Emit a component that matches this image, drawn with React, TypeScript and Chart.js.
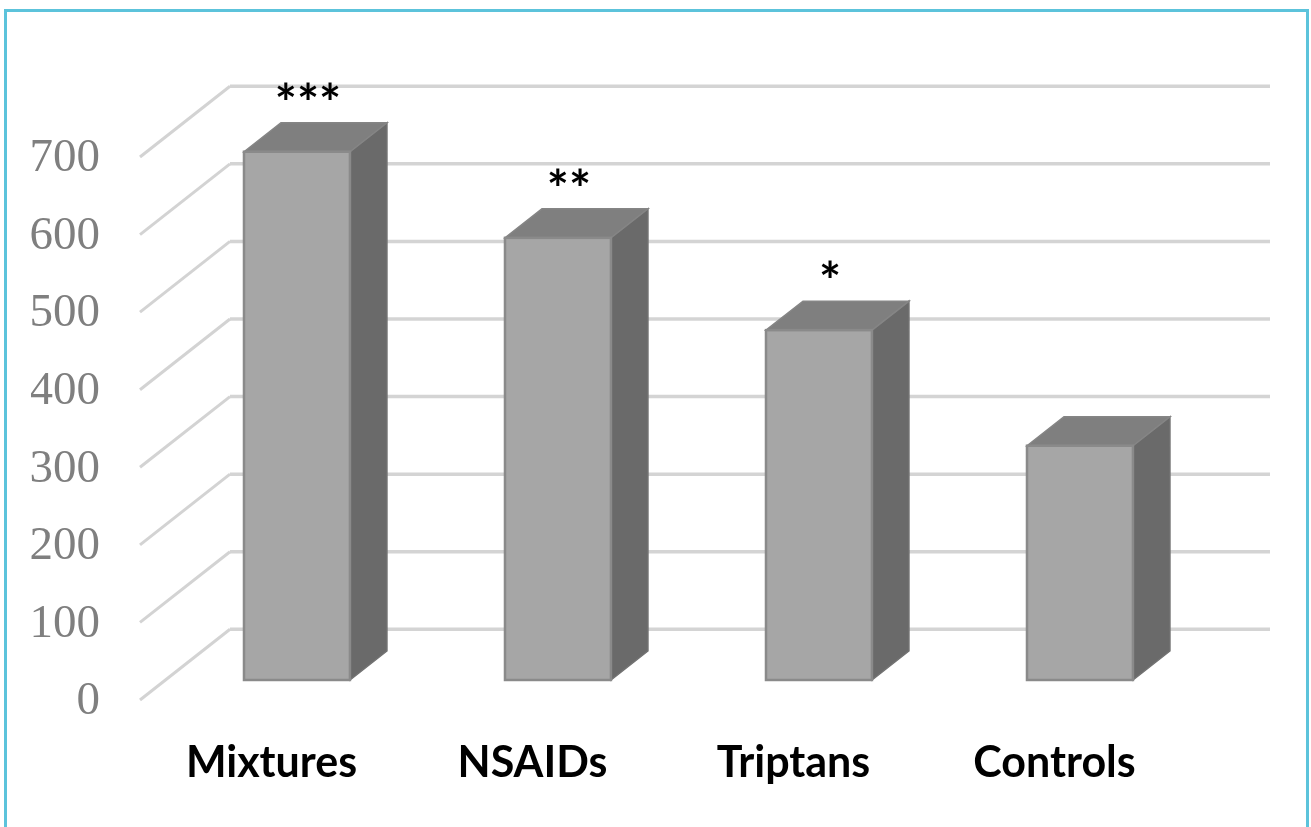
import React, { useEffect, useRef } from "react";
import { Chart, registerables } from "chart.js";

Chart.register(...registerables);

// ---- data ----
const categories = ["Mixtures", "NSAIDs", "Triptans", "Controls"];
const values = [681, 570, 451, 302];
const significance = ["***", "**", "*", ""];
const Y_MIN = 0;
const Y_MAX = 700;
const Y_STEP = 100;

// ---- 3D geometry (styling) ----
const WALL_DX = 90;
const WALL_DY = 70.7;
const BAR_FRONT = 0.283; // fraction of depth where bar front sits
const BAR_DX = 37;
const BAR_DY = 29;

const box3dPlugin = {
  id: "box3d",
  beforeDatasetsDraw(chart: any) {
    const { ctx, chartArea } = chart;
    const y = chart.scales.y;
    ctx.save();
    ctx.lineCap = "butt";
    for (let v = Y_MIN; v <= Y_MAX; v += Y_STEP) {
      const py = y.getPixelForValue(v);
      ctx.strokeStyle = "#d3d3d3";
      ctx.lineWidth = 3;
      ctx.beginPath();
      ctx.moveTo(chartArea.left - 1, py);
      ctx.lineTo(chartArea.left - 1 + WALL_DX, py - WALL_DY);
      ctx.stroke();
      ctx.strokeStyle = "#d4d4d4";
      ctx.lineWidth = 3.5;
      ctx.beginPath();
      ctx.moveTo(chartArea.left - 1 + WALL_DX, py - WALL_DY);
      ctx.lineTo(chartArea.right + 85, py - WALL_DY);
      ctx.stroke();
    }
    ctx.restore();
  },
  afterDatasetsDraw(chart: any) {
    const { ctx } = chart;
    const y = chart.scales.y;
    const meta = chart.getDatasetMeta(0);
    const ox = BAR_FRONT * WALL_DX;
    const oy = -BAR_FRONT * WALL_DY;
    ctx.save();
    meta.data.forEach((el: any, i: number) => {
      const w = el.width;
      const left = el.x - w / 2 + ox;
      const right = left + w;
      const top = y.getPixelForValue(values[i]) + oy;
      const bottom = y.getPixelForValue(0) + oy;
      // side face
      ctx.fillStyle = "#6a6a6a";
      ctx.strokeStyle = "#727272";
      ctx.lineWidth = 1.5;
      ctx.beginPath();
      ctx.moveTo(right, top);
      ctx.lineTo(right + BAR_DX, top - BAR_DY);
      ctx.lineTo(right + BAR_DX, bottom - BAR_DY);
      ctx.lineTo(right, bottom);
      ctx.closePath();
      ctx.fill();
      ctx.stroke();
      // top face
      ctx.fillStyle = "#7f7f7f";
      ctx.strokeStyle = "#858585";
      ctx.beginPath();
      ctx.moveTo(left, top);
      ctx.lineTo(left + BAR_DX, top - BAR_DY);
      ctx.lineTo(right + BAR_DX, top - BAR_DY);
      ctx.lineTo(right, top);
      ctx.closePath();
      ctx.fill();
      ctx.stroke();
      // front face
      ctx.fillStyle = "#a6a6a6";
      ctx.fillRect(left, top, w, bottom - top);
      ctx.strokeStyle = "#8a8a8a";
      ctx.lineWidth = 2.5;
      ctx.strokeRect(left, top, w, bottom - top);
      // significance label
      const s = significance[i];
      if (s) {
        ctx.fillStyle = "#000000";
        ctx.font = "bold 52px Lato";
        ctx.textAlign = "center";
        ctx.textBaseline = "alphabetic";
        ctx.fillText(s, el.x + ox + 11, top - 60 + 30);
      }
    });
    ctx.restore();
  },
};

export default function App() {
  const canvasRef = useRef<HTMLCanvasElement | null>(null);

  useEffect(() => {
    if (!canvasRef.current) return;
    const chart = new Chart(canvasRef.current, {
      type: "bar",
      data: {
        labels: categories,
        datasets: [
          {
            data: values,
            backgroundColor: "rgba(0,0,0,0)",
            borderWidth: 0,
            categoryPercentage: 1,
            barPercentage: 0.406,
          },
        ],
      },
      options: {
        animation: false,
        responsive: false,
        devicePixelRatio: 1,
        layout: { padding: { left: 31, right: 126, top: 157, bottom: 37 } },
        plugins: { legend: { display: false }, tooltip: { enabled: false } },
        scales: {
          x: {
            grid: { display: false, drawTicks: false },
            border: { display: false },
            ticks: {
              color: "#000000",
              font: { family: "Lato", size: 43, weight: "bold" },
              padding: 37,
              maxRotation: 0,
            },
            afterFit(scale: any) {
              scale.height = 90;
            },
          },
          y: {
            min: Y_MIN,
            max: Y_MAX,
            grid: { display: false, drawTicks: false },
            border: { display: false },
            ticks: {
              stepSize: Y_STEP,
              color: "#7f7f7f",
              font: { family: "Liberation Serif", size: 47 },
              padding: 41,
              labelOffset: 2,
            },
            afterFit(scale: any) {
              scale.width = 110;
            },
          },
        },
      },
      plugins: [box3dPlugin],
    });
    return () => chart.destroy();
  }, []);

  return (
    <div
      style={{
        position: "fixed",
        left: 0,
        top: 0,
        width: 1311,
        height: 827,
        overflow: "hidden",
        background: "#ffffff",
      }}
    >
      <canvas
        ref={canvasRef}
        width={1311}
        height={827}
        style={{ position: "absolute", left: 0, top: 0, width: 1311, height: 827 }}
      />
      <div
        style={{
          position: "absolute",
          left: 4,
          top: 9,
          width: 1305,
          height: 840,
          boxSizing: "border-box",
          border: "3px solid #5cc3db",
          pointerEvents: "none",
        }}
      />
    </div>
  );
}
